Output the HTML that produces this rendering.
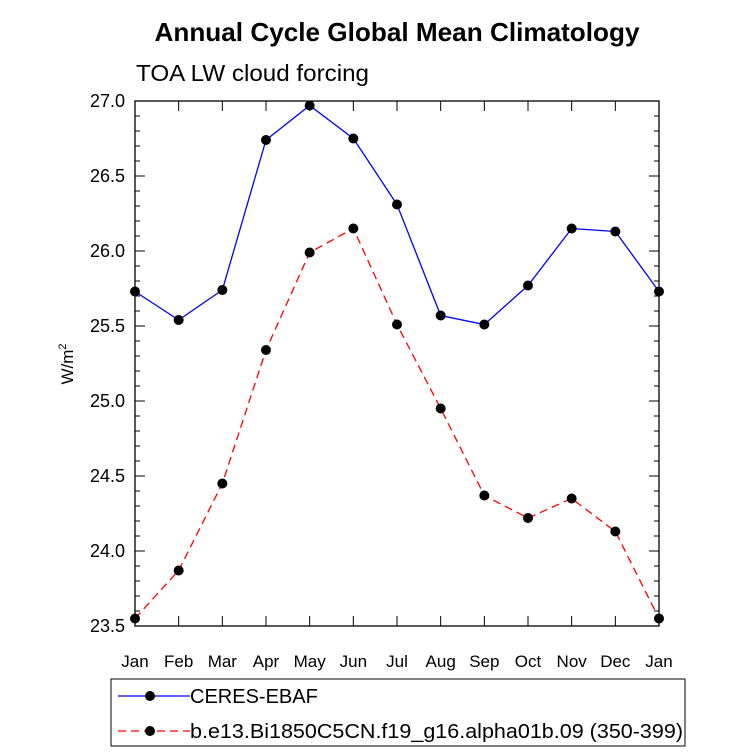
<!DOCTYPE html>
<html><head><meta charset="utf-8"><style>
html,body{margin:0;padding:0;background:#fff;}
svg{display:block;font-family:"Liberation Sans",Arial,sans-serif;}
</style></head><body>
<svg id="chart" width="733" height="755" xmlns="http://www.w3.org/2000/svg">
<text x="397" y="41" text-anchor="middle" font-size="26" font-weight="bold" textLength="485" lengthAdjust="spacingAndGlyphs">Annual Cycle Global Mean Climatology</text>
<text x="136" y="81" font-size="23" textLength="233" lengthAdjust="spacingAndGlyphs">TOA LW cloud forcing</text>
<text transform="translate(73,364) rotate(-90)" text-anchor="middle" font-size="17">W/m<tspan font-size="11" dy="-7">2</tspan></text>
<g id="axes"></g>
<g id="series"></g>
<g>
<rect x="111" y="679" width="574" height="67" fill="none" stroke="#000" stroke-width="1"/>
<line x1="118" y1="696" x2="190" y2="696" stroke="#0000ff" stroke-width="1.3"/>
<circle cx="150" cy="696" r="5" fill="#000"/>
<text x="190" y="703" font-size="20">CERES-EBAF</text>
<line x1="118" y1="731" x2="190" y2="731" stroke="#ff0000" stroke-width="1.3" stroke-dasharray="8,5"/>
<circle cx="150" cy="731" r="5" fill="#000"/>
<text x="190" y="738" font-size="20" textLength="493" lengthAdjust="spacingAndGlyphs">b.e13.Bi1850C5CN.f19_g16.alpha01b.09 (350-399)</text>
</g>
</svg>
<script>
const months = ["Jan","Feb","Mar","Apr","May","Jun","Jul","Aug","Sep","Oct","Nov","Dec","Jan"];
const ceres = [25.73,25.54,25.74,26.74,26.97,26.75,26.31,25.57,25.51,25.77,26.15,26.13,25.73];
const model = [23.55,23.87,24.45,25.34,25.99,26.15,25.51,24.95,24.37,24.22,24.35,24.13,23.55];
const yTicks = ["23.5","24.0","24.5","25.0","25.5","26.0","26.5","27.0"];

const L=135,R=659,T=101,B=626,ymin=23.5,ymax=27.0;
const xs=i=>L+(R-L)*i/(months.length-1);
const ys=v=>B-(v-ymin)/(ymax-ymin)*(B-T);
const NS="http://www.w3.org/2000/svg";
function mk(tag,attrs,parent){const e=document.createElementNS(NS,tag);for(const k in attrs)e.setAttribute(k,attrs[k]);parent.appendChild(e);return e;}
const axes=document.getElementById('axes'),ser=document.getElementById('series');
const frame=mk('rect',{x:L,y:T,width:R-L,height:B-T,fill:'none',stroke:'#000','stroke-width':1.3},axes);


for(let v=ymin;v<=ymax+1e-9;v+=0.1){
  const y=ys(v);const major=Math.abs(v*2-Math.round(v*2))<1e-6;const len=major?10:5;
  mk('line',{x1:L,y1:y,x2:L+len,y2:y,stroke:'#000'},axes);
  mk('line',{x1:R,y1:y,x2:R-len,y2:y,stroke:'#000'},axes);
}
yTicks.forEach(t=>{
  const tx=mk('text',{x:L-10,y:ys(parseFloat(t))+6,'text-anchor':'end','font-size':18},axes);
  tx.textContent=t;
  
  
});
months.forEach((m,i)=>{
  const x=xs(i);
  mk('line',{x1:x,y1:B,x2:x,y2:B-10,stroke:'#000'},axes);
  mk('line',{x1:x,y1:T,x2:x,y2:T+10,stroke:'#000'},axes);
  const tx=mk('text',{x:x,y:B+41,'text-anchor':'middle','font-size':17},axes);
  tx.textContent=m;
  
  
});
function draw(vals,color,dash,name){
  const p=mk('polyline',{points:vals.map((v,i)=>xs(i)+','+ys(v)).join(' '),fill:'none',stroke:color,'stroke-width':1.3,'stroke-dasharray':dash},ser);
  
  
  vals.forEach((v,i)=>{
    const c=mk('circle',{cx:xs(i),cy:ys(v),r:5,fill:'#000'},ser);
    
    
  });
}
draw(ceres,'#0000ff','none','ceres');
draw(model,'#ff0000','8,5','model');
</script>
</body></html>
